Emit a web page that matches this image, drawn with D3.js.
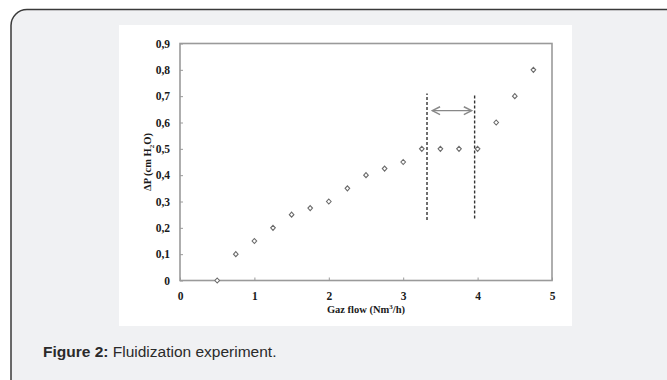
<!DOCTYPE html>
<html><head><meta charset="utf-8">
<script src="https://cdn.jsdelivr.net/npm/d3@7"></script>
<style>html,body{margin:0;padding:0;background:#fff;}svg{display:block;}</style>
</head><body>
<script>
const flow = [0.5,0.75,1,1.25,1.5,1.75,2,2.25,2.5,2.75,3,3.25,3.5,3.75,4,4.25,4.5,4.75];
const dp   = [0,0.1,0.15,0.2,0.25,0.275,0.3,0.35,0.4,0.425,0.45,0.5,0.5,0.5,0.5,0.6,0.7,0.8];
const xTicks = [0,1,2,3,4,5];
const yTicks = [0,0.1,0.2,0.3,0.4,0.5,0.6,0.7,0.8,0.9];
const dashX = [3.32,3.96];
const dashY = [[0.23,0.71],[0.235,0.71]];
const arrowX = [3.39,3.92];
const arrowY = 0.645;

const W=667,H=380;
const svg=d3.select("body").append("svg").attr("width",W).attr("height",H);
svg.append("rect").attr("width",W).attr("height",H).attr("fill","#fff");
// outer panel
svg.append("rect").attr("x",11).attr("y",9.5).attr("width",W+30).attr("height",H+30)
  .attr("rx",16).attr("fill","#f0f1f3").attr("stroke","#3a3a3a").attr("stroke-width",1.5);
// white chart area
svg.append("rect").attr("x",119).attr("y",25).attr("width",453).attr("height",301).attr("fill","#fff");

const x=d3.scaleLinear().domain([0,5]).range([180,552]);
const y=d3.scaleLinear().domain([0,0.9]).range([280.5,43.5]);
const fmt=d=>d3.format(".1~f")(d).replace(".",",");
const serif="'Liberation Serif','Times New Roman',serif";

const defs=svg.append("defs");
defs.append("marker").attr("id","ah").attr("viewBox","0 0 10 10").attr("refX",9).attr("refY",5)
  .attr("markerWidth",7).attr("markerHeight",7).attr("orient","auto-start-reverse")
  .append("path").attr("d","M1,1L9,5L1,9").attr("fill","none").attr("stroke","#888").attr("stroke-width",1.5);

// frame
svg.append("rect").attr("x",180).attr("y",43.5).attr("width",372).attr("height",237)
  .attr("fill","none").attr("stroke","#9a9a9a").attr("stroke-width",1.6);

const gx=svg.append("g").attr("transform","translate(0,280.5)")
  .call(d3.axisBottom(x).tickValues(xTicks).tickSize(-3).tickPadding(11).tickFormat(d3.format("d")));
const gy=svg.append("g").attr("transform","translate(180,0)")
  .call(d3.axisLeft(y).tickValues(yTicks).tickSize(-3).tickPadding(10).tickFormat(d=>d===0?"0":fmt(d)));
[gx,gy].forEach(g=>{
  g.select(".domain").remove();
  g.selectAll(".tick line").attr("stroke","#9a9a9a");
  g.selectAll("text").attr("font-family",serif).attr("font-weight","bold").attr("font-size",11.5).attr("fill","#1a1a1a");
});

// axis titles
const xt=svg.append("text").attr("x",366).attr("y",313).attr("text-anchor","middle")
  .attr("font-family",serif).attr("font-weight","bold").attr("font-size",10.5).attr("fill","#1a1a1a");
xt.append("tspan").text("Gaz flow (Nm");
xt.append("tspan").text("3").attr("font-size",7).attr("dy",-4);
xt.append("tspan").text("/h)").attr("dy",4);

const yt=svg.append("text").attr("transform","translate(151,162) rotate(-90)").attr("text-anchor","middle")
  .attr("font-family",serif).attr("font-weight","bold").attr("font-size",10.5).attr("fill","#1a1a1a");
yt.append("tspan").text("ΔP (cm H");
yt.append("tspan").text("2").attr("font-size",7).attr("dy",3);
yt.append("tspan").text("O)").attr("dy",-3);

// dashed lines
svg.selectAll(".dash").data(dashX).enter().append("line")
  .attr("x1",d=>x(d)).attr("x2",d=>x(d))
  .attr("y1",(d,i)=>y(dashY[i][0])).attr("y2",(d,i)=>y(dashY[i][1]))
  .attr("stroke","#333").attr("stroke-width",1.4).attr("stroke-dasharray","3,2");

// arrow
svg.append("line").attr("x1",x(arrowX[0])).attr("x2",x(arrowX[1])).attr("y1",y(arrowY)).attr("y2",y(arrowY))
  .attr("stroke","#888").attr("stroke-width",1.4)
  .attr("marker-start","url(#ah)").attr("marker-end","url(#ah)");

// points (small diamond glyph)
svg.selectAll(".pt").data(flow).enter().append("path")
  .attr("d","M0,-2.5L2.3,0L0,2.5L-2.3,0Z").attr("transform",(d,i)=>`translate(${x(d)},${y(dp[i])})`)
  .attr("fill","#fff").attr("stroke","#6a6a6a").attr("stroke-width",1.1);

// caption
const cap=svg.append("text").attr("x",43).attr("y",357)
  .attr("font-family","'Liberation Sans',Arial,sans-serif").attr("font-size",15.5).attr("fill","#2a2a2a");
cap.append("tspan").text("Figure 2:").attr("font-weight","bold");
cap.append("tspan").text(" Fluidization experiment.");
</script>
</body></html>
